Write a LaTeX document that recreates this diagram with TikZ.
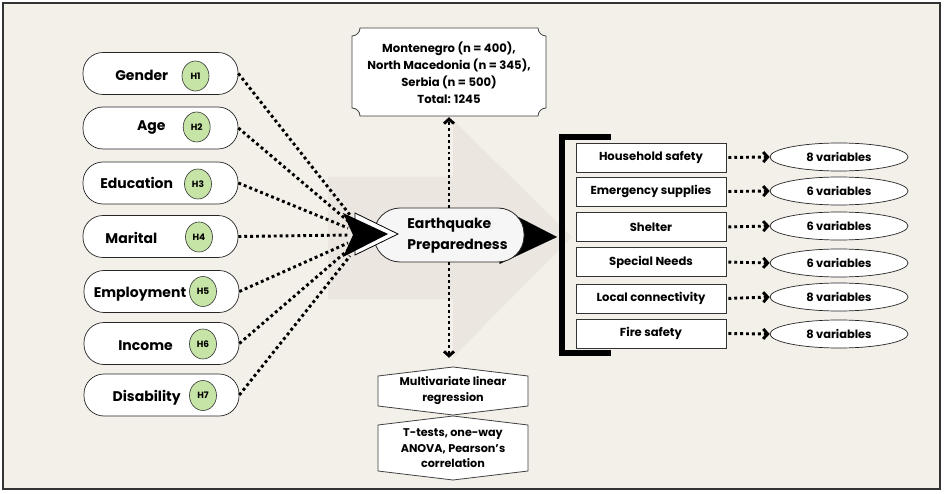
\documentclass[tikz,border=0pt]{standalone}
\usepackage{fontspec}
\setmainfont{Poppins}
\usetikzlibrary{arrows.meta,shapes.geometric}
\definecolor{bg}{HTML}{F3EFE9}
\definecolor{bgarrow}{HTML}{EBE6E0}
\definecolor{hgreen}{HTML}{C5E4A6}
\definecolor{eqfill}{HTML}{F6F6F6}
\pgfdeclarelayer{bgl}
\pgfdeclarelayer{back}
\pgfdeclarelayer{front}
\pgfsetlayers{bgl,back,main,front}
\begin{document}
\begin{tikzpicture}[x=1pt,y=-1pt,
  every node/.style={font=\bfseries},
  leftbox/.style={draw=black!85,fill=white,rounded corners=20pt,minimum width=155pt,minimum height=42pt,line width=0.7pt,inner sep=0pt},
  lbl/.style={anchor=base,inner sep=0pt,font=\bfseries\fontsize{14}{16}\selectfont},
  hyp/.style={ellipse,draw=black!80,fill=hgreen,minimum width=27pt,minimum height=30pt,inner sep=0pt,line width=0.6pt,font=\bfseries\fontsize{9}{10}\selectfont},
  dimbox/.style={draw=black!80,fill=white,minimum width=150pt,minimum height=29pt,line width=0.7pt,inner sep=0pt,font=\bfseries\fontsize{11.6}{13}\selectfont},
  varell/.style={ellipse,draw=black!85,fill=white,minimum width=138pt,minimum height=28pt,line width=0.7pt,inner sep=0pt,font=\bfseries\fontsize{11.4}{13}\selectfont},
  dots/.style={line width=2.9pt,dash pattern=on 2.9pt off 3pt},
  chev/.style={dots,-{Straight Barb[length=4.5pt,width=10pt]}},
  shapeline/.style={fill=white,draw=black!75,line width=0.8pt},
]
\useasboundingbox (0,0) rectangle (944,494);

% ---------- background ----------
\begin{pgfonlayer}{bgl}
  \fill[white] (0,0) rectangle (944,494);
  \draw[fill=bg,draw=black!80,line width=1.6pt] (3,3) rectangle (940,489);
  \fill[bgarrow] (328,177) -- (453,177) -- (453,120) -- (572,237) -- (453,357) -- (453,299) -- (328,299) -- cycle;
\end{pgfonlayer}

% ---------- left factor nodes ----------
\node[leftbox] (g1) at (160.5,73.5) {};
\node[leftbox] (g2) at (160.5,128) {};
\node[leftbox] (g3) at (160.5,183) {};
\node[leftbox] (g4) at (160.5,236.5) {};
\node[leftbox] (g5) at (161.5,291.5) {};
\node[leftbox] (g6) at (161.5,343.5) {};
\node[leftbox] (g7) at (161.5,395) {};

\node[lbl] (t1) at (141.7,81) {Gender};
\node[lbl] (t2) at (151.3,130.7) {Age};
\node[lbl] (t3) at (136.7,188.3) {Education};
\node[lbl] (t4) at (131.3,243.3) {Marital};
\node[lbl] (t5) at (140,297.3) {Employment};
\node[lbl] (t6) at (145.5,350.7) {Income};
\node[lbl] (t7) at (146.7,401) {Disability};

\node[hyp] (h1) at (195.5,76) {H1};
\node[hyp] (h2) at (196.7,127) {H2};
\node[hyp] (h3) at (198,184) {H3};
\node[hyp] (h4) at (199,237) {H4};
\node[hyp] (h5) at (203,291.5) {H5};
\node[hyp] (h6) at (203,344) {H6};
\node[hyp] (h7) at (203,395.5) {H7};

% ---------- central node ----------
\node[draw=black!85,fill=eqfill,rounded corners=26pt,minimum width=150pt,minimum height=54pt,line width=0.8pt] (eq) at (449,235) {};
\node[align=left,inner sep=0pt,font=\bfseries\fontsize{14}{21}\selectfont] (eqt) at (457.5,236) {Earthquake\\Preparedness};

% ---------- sample box ----------
\node[minimum width=194pt,minimum height=88pt,inner sep=0pt,align=center,font=\bfseries\fontsize{11.6}{17}\selectfont] (samp) at (449,73)
  {Montenegro (n = 400),\\North Macedonia (n = 345),\\Serbia (n = 500)\\Total: 1245};
\begin{pgfonlayer}{back}
  \draw[shapeline]
   (360,28) -- (538,28) .. controls (538,32.4) and (541.6,36) .. (546,36)
   -- (546,108) .. controls (541.6,108) and (538,111.6) .. (538,116)
   -- (360,116) .. controls (360,111.6) and (356.4,108) .. (352,108)
   -- (352,36) .. controls (356.4,36) and (360,32.4) .. (360,28) -- cycle;
\end{pgfonlayer}

% ---------- analysis hexagons ----------
\node[minimum width=150pt,minimum height=48pt,inner sep=0pt,align=center,font=\bfseries\fontsize{11.2}{16}\selectfont] (hex1) at (453,391)
  {Multivariate linear\\regression};
\node[minimum width=150pt,minimum height=64pt,inner sep=0pt,align=center,font=\bfseries\fontsize{11.2}{15.5}\selectfont] (hex2) at (453,448.5)
  {T-tests, one-way\\ANOVA, Pearson’s\\correlation};
\begin{pgfonlayer}{back}
  \draw[shapeline] (378,376) -- (453,367) -- (528,376) -- (528,406) -- (453,415) -- (378,406) -- cycle;
  \draw[shapeline] (378,425) -- (453,416) -- (528,425) -- (528,471) -- (453,480) -- (378,471) -- cycle;
\end{pgfonlayer}

% ---------- dimensions ----------
\node[dimbox] (r1) at (651,157.5) {Household safety};
\node[dimbox] (r2) at (651,191.5) {Emergency supplies};
\node[dimbox] (r3) at (651,227) {Shelter};
\node[dimbox] (r4) at (651,262) {Special Needs};
\node[dimbox] (r5) at (651,298.5) {Local connectivity};
\node[dimbox] (r6) at (651,333.5) {Fire safety};

\node[varell] (v1) at (839,157) {8 variables};
\node[varell] (v2) at (839,191) {6 variables};
\node[varell] (v3) at (839,226) {6 variables};
\node[varell] (v4) at (839,263) {6 variables};
\node[varell] (v5) at (839,297) {8 variables};
\node[varell] (v6) at (839,334) {8 variables};

\foreach \i in {1,...,6} {
  \draw[chev,shorten <=2pt] (r\i.east) -- (v\i.west);
}

% bracket and arrow to it
\draw[line width=6pt,miter limit=10] (611,137.5) -- (561.5,137.5) -- (561.5,352.5) -- (611,352.5);
\coordinate (brk) at (557,237);
\begin{pgfonlayer}{back}
  \draw[line width=0.1pt,-{Triangle[length=57pt,width=56pt]}] (eq.center) -- (brk);
\end{pgfonlayer}

% vertical arrows
\draw[chev] (eq.north) -- (samp.south);
\draw[chev,shorten >=9pt] (eq.south) -- (eq.south |- hex1.north);

% ---------- converging arrows ----------
\coordinate (c1) at (350,215);
\coordinate (c2) at (348,221);
\coordinate (c3) at (348,228);
\coordinate (c4) at (350,235);
\coordinate (c5) at (348,243);
\coordinate (c6) at (348,250);
\coordinate (c7) at (350,256);
\coordinate (conv) at (388,234);
\begin{pgfonlayer}{front}
  \foreach \i in {1,...,7} {
    \draw[dots] (g\i.east) -- (c\i);
  }
  \draw[fill=white,draw=black,line width=0.8pt] (355,213) -- (398,234) -- (355,255) -- cycle;
  \fill[black] (343,213) -- (conv) -- (343,257) -- (353,235) -- cycle;
\end{pgfonlayer}
\end{tikzpicture}
\end{document}
